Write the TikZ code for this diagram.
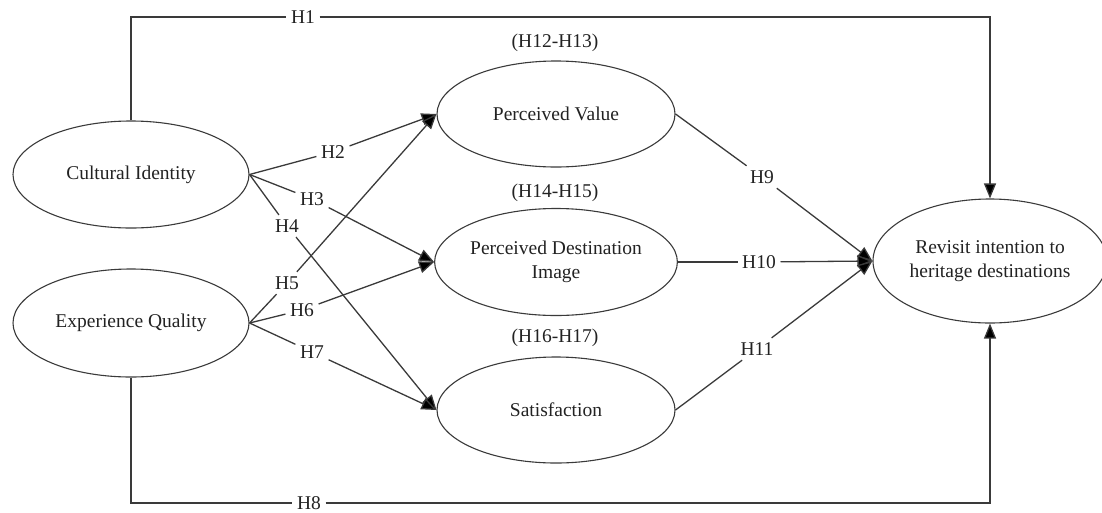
\documentclass[tikz,border=0pt]{standalone}
\usepackage{fontspec}
\setmainfont{Liberation Serif}
\usetikzlibrary{shapes.geometric,arrows.meta}
\definecolor{linegray}{HTML}{3A3A3A}
\definecolor{textgray}{HTML}{222222}
\begin{document}
\begin{tikzpicture}[x=1pt,y=-1pt,
  every node/.style={font=\fontsize{19.5}{24}\selectfont, text=textgray},
  ell/.style={ellipse, draw=linegray, line width=1.1pt, inner sep=0pt, align=center},
  lab/.style={inner sep=4.5pt},
  conn/.style={draw=linegray, line width=1.3pt},
  arr/.style={conn, -{Triangle[length=15pt,width=12pt,fill=black]}}]
\useasboundingbox (0,0) rectangle (1102,512);
% ellipses
\node[ell, minimum width=236pt, minimum height=107pt] (ci) at (131,174.5) {Cultural Identity};
\node[ell, minimum width=236pt, minimum height=108pt] (eq) at (131,323) {Experience Quality};
\node[ell, minimum width=238pt, minimum height=106pt] (pv) at (556,114) {Perceived Value};
\node[ell, minimum width=238pt, minimum height=107pt] (pdi) at (556,262) {Perceived Destination\\Image};
\node[ell, minimum width=238pt, minimum height=106pt] (sat) at (556,410) {Satisfaction};
\node[ell, minimum width=234pt, minimum height=124pt] (rv) at (990,261) {Revisit intention to\\heritage destinations};
% group labels
\node (g1) at (555,43) {(H12-H13)};
\node (g2) at (555,193) {(H14-H15)};
\node (g3) at (555,338) {(H16-H17)};
% hypothesis labels
\node[lab] (h1) at (303,17) {H1};
\node[lab] (h8) at (309,503) {H8};
\node[lab] (h2) at (333,152) {H2};
\node[lab] (h3) at (312,199) {H3};
\node[lab] (h4) at (287,226) {H4};
\node[lab] (h5) at (287,283) {H5};
\node[lab] (h6) at (302,310) {H6};
\node[lab] (h7) at (312,352) {H7};
\node[lab] (h9) at (762,177) {H9};
\node[lab] (h10) at (759,262) {H10};
\node[lab] (h11) at (757,349) {H11};
% H1 and H8
\draw[conn] (ci.north) |- (h1);
\draw[arr] (h1) -| (rv.north);
\draw[conn] (eq.south) |- (h8);
\draw[arr] (h8) -| (rv.south);
% from Cultural Identity
\draw[conn] (ci.east) -- (h2);
\draw[arr] (h2) -- (pv.west);
\draw[conn] (ci.east) -- (h3);
\draw[arr] (h3) -- (pdi.west);
\draw[conn] (ci.east) -- (h4);
\draw[arr] (h4) -- (sat.west);
% from Experience Quality
\draw[conn] (eq.east) -- (h5);
\draw[arr] (h5) -- (pv.west);
\draw[conn] (eq.east) -- (h6);
\draw[arr] (h6) -- (pdi.west);
\draw[conn] (eq.east) -- (h7);
\draw[arr] (h7) -- (sat.west);
% to Revisit intention
\draw[conn] (pv.east) -- (h9);
\draw[arr] (h9) -- (rv.west);
\draw[conn] (pdi.east) -- (h10);
\draw[arr] (h10) -- (rv.west);
\draw[conn] (sat.east) -- (h11);
\draw[arr] (h11) -- (rv.west);
\end{tikzpicture}
\end{document}
